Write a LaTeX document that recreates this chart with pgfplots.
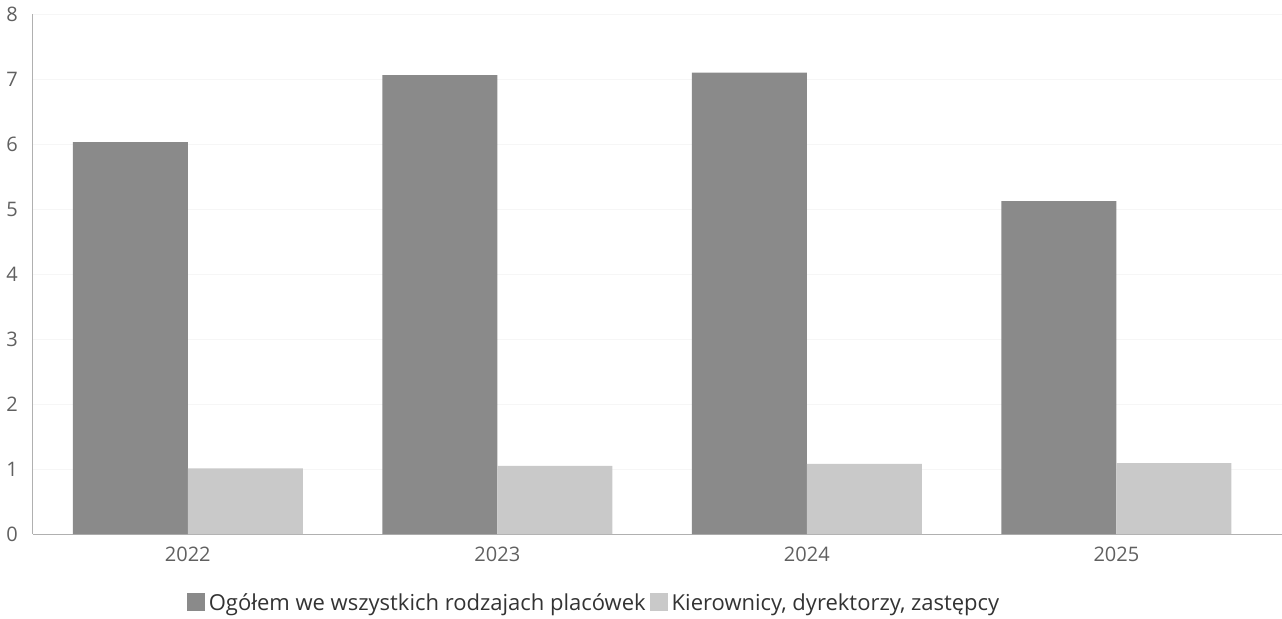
\documentclass[border=0pt]{standalone}
\usepackage{fontspec}
\setmainfont{Open Sans}
\usepackage{pgfplots}
\pgfplotsset{compat=1.18}
\definecolor{tickgray}{HTML}{606060}
\definecolor{axgray}{HTML}{B0B0B0}
\definecolor{darkbar}{HTML}{8A8A8A}
\definecolor{lightbar}{HTML}{C9C9C9}
\begin{document}
\begin{tikzpicture}
\begin{axis}[
  scale only axis,
  width=624.5pt, height=260pt,
  xmin=-0.5, xmax=3.535,
  ymin=0, ymax=8,
  ytick={0,1,...,8},
  xtick={0,1,2,3},
  xticklabels={2022,2023,2024,2025},
  axis x line*=bottom,
  axis y line*=left,
  axis line style={axgray, line width=0.5pt},
  major tick length=0pt,
  tick style={draw=none},
  ymajorgrids,
  grid style={gray!7, line width=0.4pt},
  ybar=0pt,
  bar width=57.5pt,
  ticklabel style={font=\fontsize{10}{12}\selectfont, text=tickgray},
  /pgf/number format/assume math mode=true,
  xticklabel style={yshift=-3pt},
  yticklabel style={xshift=-4pt},
  legend columns=2,
  legend style={draw=none, at={(0.45,-0.133)}, anchor=center,
    font=\fontsize{11}{13}\selectfont, text=black!80,
    /tikz/every even column/.append style={column sep=0pt}},
  legend image code/.code={\fill[#1] (0pt,-4pt) rectangle (9pt,5pt);},
]
\addplot[draw=none, fill=darkbar]
  coordinates {(0,6.03) (1,7.06) (2,7.10) (3,5.12)};
\addplot[draw=none, fill=lightbar]
  coordinates {(0,1.01) (1,1.05) (2,1.08) (3,1.09)};
\legend{Ogółem we wszystkich rodzajach placówek,{Kierownicy, dyrektorzy, zastępcy}}
\end{axis}
\pgfresetboundingbox
\path[use as bounding box] (-16.5pt,-42pt) rectangle (624.5pt,267pt);
\end{tikzpicture}
\end{document}
